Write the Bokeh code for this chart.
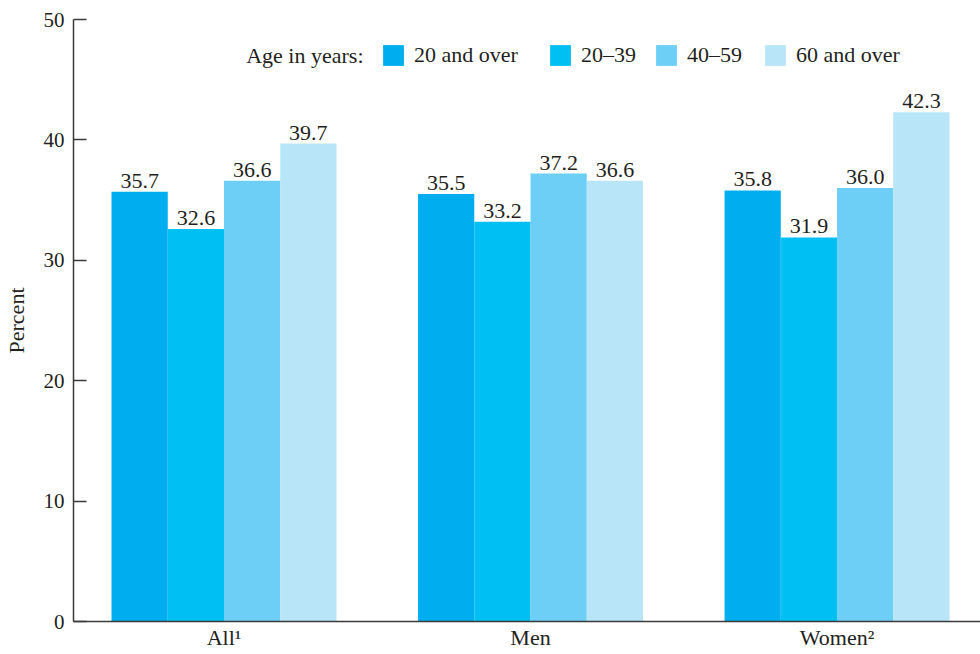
from bokeh.plotting import figure
from bokeh.models import (ColumnDataSource, Range1d, FixedTicker, Legend, LegendItem,
                          Label, LabelSet)
from bokeh.transform import dodge
from bokeh.embed import file_html
from bokeh.resources import INLINE

groups = ["All\u00b9", "Men", "Women\u00b2"]
series = ["20 and over", "20\u201339", "40\u201359", "60 and over"]
v_20_over = [35.7, 35.5, 35.8]
v_20_39 = [32.6, 33.2, 31.9]
v_40_59 = [36.6, 37.2, 36.0]
v_60_over = [39.7, 36.6, 42.3]
colors = ["#00aeef", "#00bff3", "#6dcff6", "#b9e5f9"]
y_ticks = [0, 10, 20, 30, 40, 50]

FONT = "Liberation Serif"
TXT = "#231f20"
AX = "#3a3a3a"

xpos = [0, 1, 2]
src = ColumnDataSource(dict(
    x=xpos,
    s0=v_20_over, s1=v_20_39, s2=v_40_59, s3=v_60_over,
    l0=[f"{v:.1f}" for v in v_20_over],
    l1=[f"{v:.1f}" for v in v_20_39],
    l2=[f"{v:.1f}" for v in v_40_59],
    l3=[f"{v:.1f}" for v in v_60_over],
))

p = figure(width=980, height=654, output_backend="svg", toolbar_location=None,
           x_range=Range1d(-0.491, 2.468), y_range=Range1d(0, 50),
           min_border_left=73, min_border_right=0, min_border_top=19, min_border_bottom=33)
p.outline_line_color = None
p.grid.visible = False

bw = 0.1835
offsets = [-1.5 * bw, -0.5 * bw, 0.5 * bw, 1.5 * bw]
renderers = []
for i in range(4):
    r = p.vbar(x=dodge("x", offsets[i], range=p.x_range), top=f"s{i}", width=bw, bottom=0,
               source=src, fill_color=colors[i], line_color=None)
    renderers.append(r)
    lbl = LabelSet(x=dodge("x", offsets[i], range=p.x_range), y=f"s{i}", text=f"l{i}",
                   source=src, text_align="center", text_baseline="bottom", y_offset=4,
                   text_font=FONT, text_font_size="22px", text_color=TXT)
    p.add_layout(lbl)

# axes
xa = p.xaxis[0]
xa.ticker = FixedTicker(ticks=xpos)
xa.major_label_overrides = {i: g for i, g in zip(xpos, groups)}
xa.major_tick_line_color = None
xa.major_tick_in = 0
xa.major_tick_out = 0
xa.minor_tick_line_color = None
xa.axis_line_color = AX
xa.axis_line_width = 1.5
xa.major_label_text_font = FONT
xa.major_label_text_font_size = "22px"
xa.major_label_text_color = TXT
xa.major_label_standoff = 3

ya = p.yaxis[0]
ya.ticker = FixedTicker(ticks=y_ticks)
ya.major_tick_in = 13
ya.major_tick_out = 0
ya.major_tick_line_color = AX
ya.major_tick_line_width = 1.5
ya.minor_tick_line_color = None
ya.axis_line_color = AX
ya.axis_line_width = 1.5
ya.major_label_text_font = FONT
ya.major_label_text_font_size = "21px"
ya.major_label_text_color = TXT
ya.major_label_standoff = 9
ya.axis_label = "Percent"
ya.axis_label_text_font = FONT
ya.axis_label_text_font_size = "22px"
ya.axis_label_text_font_style = "normal"
ya.axis_label_text_color = TXT
ya.axis_label_standoff = 12

# legend: one entry per box, placed like the reference
leg_x = [307, 474, 580, 689]
for i in range(4):
    lg = Legend(items=[LegendItem(label=series[i], renderers=[renderers[i]])],
                orientation="horizontal", location=(leg_x[i], 553),
                glyph_width=26, glyph_height=26, label_standoff=8, spacing=0,
                padding=0, margin=0, border_line_color=None, background_fill_alpha=0,
                label_text_font=FONT, label_text_font_size="22px", label_text_color=TXT,
                label_height=26, label_text_baseline="middle")
    p.add_layout(lg)

title_lbl = Label(x=290, y=566, x_units="screen", y_units="screen", text="Age in years:",
                  text_align="right", text_baseline="middle", text_font=FONT,
                  text_font_size="22px", text_color=TXT)
p.add_layout(title_lbl)

open("out.html", "w").write(file_html(p, INLINE))
